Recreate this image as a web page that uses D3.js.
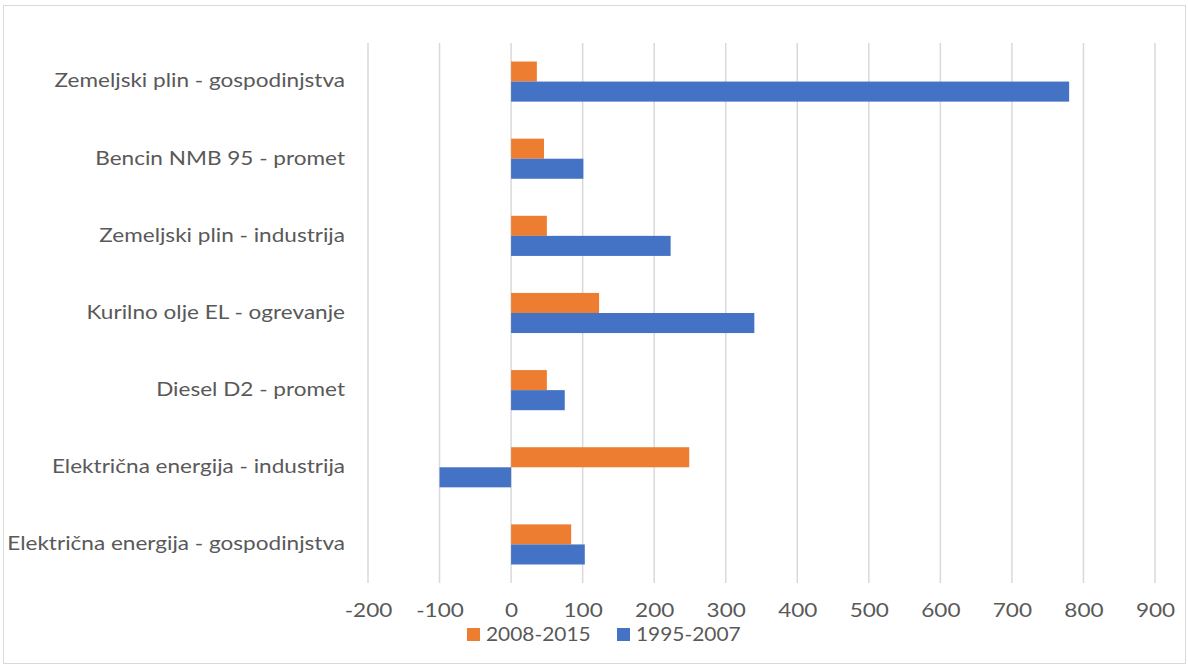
<!DOCTYPE html>
<html>
<head>
<meta charset="utf-8">
<script src="https://cdn.jsdelivr.net/npm/d3@7"></script>
<style>
  body { margin: 0; background: #fff; }
  text { font-family: Lato, "Open Sans", sans-serif; }
</style>
</head>
<body>
<div id="chart"></div>
<script>
// categories, top to bottom as drawn
var categories = [
  "Zemeljski plin - gospodinjstva",
  "Bencin NMB 95 - promet",
  "Zemeljski plin - industrija",
  "Kurilno olje EL - ogrevanje",
  "Diesel D2 - promet",
  "Električna energija - industrija",
  "Električna energija - gospodinjstva"
];
var seriesNames = ["2008-2015", "1995-2007"];
var values2008 = [36, 46, 50, 123, 50, 249, 84];
var values1995 = [780, 101, 223, 340, 75, -100, 103];
var tickValues = [-200, -100, 0, 100, 200, 300, 400, 500, 600, 700, 800, 900];
var colors = ["#ed7d31", "#4472c4"];

var svgWidth = 1188;
var svgHeight = 667;
var stretch = 1.22; // text in the picture is wide for its height
var legendStretch = 1.1;

var svg = d3.select("#chart")
  .append("svg")
  .attr("width", svgWidth)
  .attr("height", svgHeight);

// chart area border
svg.append("rect")
  .attr("x", 3.5)
  .attr("y", 5.5)
  .attr("width", 1182)
  .attr("height", 658)
  .attr("fill", "none")
  .attr("stroke", "#d9d9d9")
  .attr("stroke-width", 1);

var margin = { top: 43, bottom: 84, left: 368, right: 33 };

var xScale = d3.scaleLinear()
  .domain([-200, 900])
  .range([margin.left, svgWidth - margin.right]);

var yScale = d3.scaleBand()
  .domain(categories)
  .range([margin.top, svgHeight - margin.bottom])
  .paddingInner(0.48)
  .paddingOuter(0.24);

var sub = d3.scaleBand()
  .domain(seriesNames)
  .range([0, yScale.bandwidth()]);

// gridlines
svg.append("g")
  .selectAll("line")
  .data(tickValues)
  .enter()
  .append("line")
  .attr("x1", d => xScale(d))
  .attr("x2", d => xScale(d))
  .attr("y1", margin.top)
  .attr("y2", svgHeight - margin.bottom)
  .attr("stroke", "#d9d9d9")
  .attr("stroke-width", 1.5);

// x axis labels
var xAxis = d3.axisBottom(xScale)
  .tickValues(tickValues)
  .tickFormat(d => String(d))
  .tickSize(0)
  .tickPadding(21);

var xg = svg.append("g")
  .attr("transform", `translate(0, ${svgHeight - margin.bottom})`)
  .call(xAxis);
xg.select(".domain").remove();
xg.selectAll("text")
  .attr("fill", "#595959")
  .attr("transform", `scale(${stretch},1)`)
  .style("font-size", "18.5px")
  .style("font-family", "Lato, sans-serif");

// y axis labels
var yAxis = d3.axisLeft(yScale).tickSize(0);
var yg = svg.append("g")
  .attr("transform", `translate(${margin.left}, 0)`)
  .call(yAxis);
yg.select(".domain").remove();
yg.selectAll("text")
  .attr("x", -23 / stretch)
  .attr("transform", `scale(${stretch},1)`)
  .attr("fill", "#595959")
  .style("font-size", "18.5px")
  .style("font-family", "Lato, sans-serif");

// bars
var rows = categories.map((c, i) => ({ cat: c, vals: [values2008[i], values1995[i]] }));

var groups = svg.append("g")
  .selectAll("g")
  .data(rows)
  .enter()
  .append("g")
  .attr("transform", d => `translate(0, ${yScale(d.cat)})`);

groups.selectAll("rect")
  .data(d => d.vals.map((v, j) => ({ name: seriesNames[j], v: v, j: j })))
  .enter()
  .append("rect")
  .attr("x", d => xScale(Math.min(0, d.v)))
  .attr("width", d => Math.abs(xScale(d.v) - xScale(0)))
  .attr("y", d => sub(d.name))
  .attr("height", sub.bandwidth())
  .attr("fill", d => colors[d.j]);

// legend
var legendItems = [
  { name: seriesNames[0], x: 467 },
  { name: seriesNames[1], x: 617 }
];
var legend = svg.append("g")
  .selectAll("g")
  .data(legendItems)
  .enter()
  .append("g")
  .attr("transform", d => `translate(${d.x}, 628)`);

legend.append("rect")
  .attr("width", 13)
  .attr("height", 13)
  .attr("fill", (d, i) => colors[i]);

legend.append("text")
  .attr("x", 19 / legendStretch)
  .attr("y", 13)
  .attr("transform", `scale(${legendStretch},1)`)
  .attr("fill", "#595959")
  .style("font-size", "19px")
  .text(d => d.name);
</script>
</body>
</html>
